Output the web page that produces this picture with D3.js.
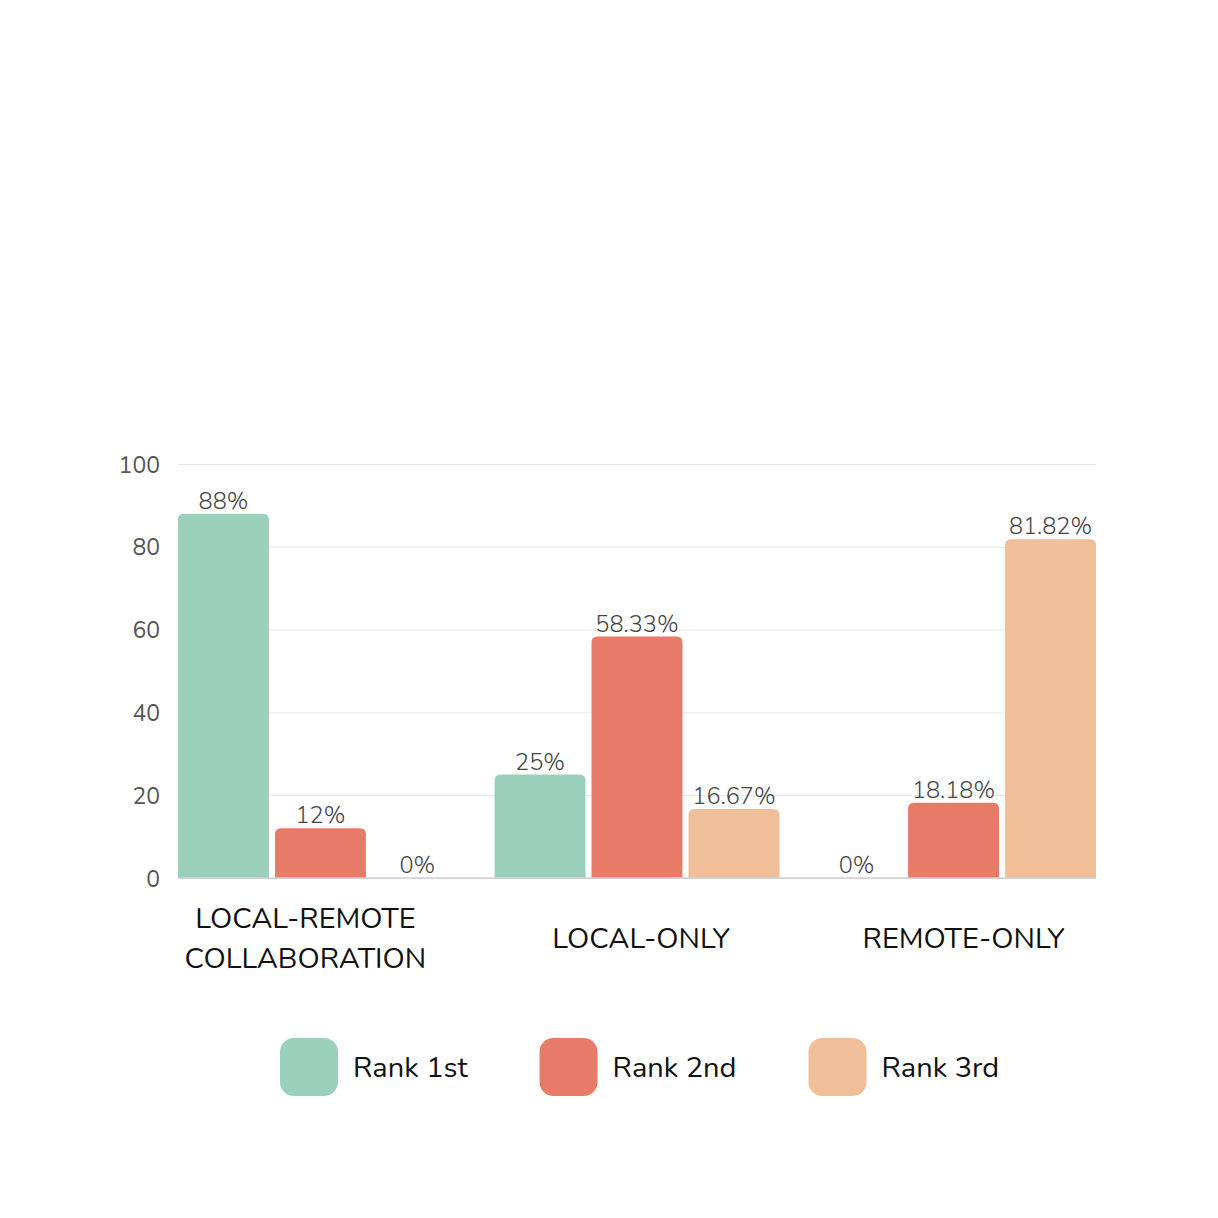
<!DOCTYPE html>
<html>
<head>
<meta charset="utf-8">
<script src="https://cdn.jsdelivr.net/npm/d3@7"></script>
<style>
  body { margin: 0; background: #fff; }
  text { font-family: "Nunito", "Lato", "Open Sans", sans-serif; }
  .grid line { stroke: #e6e6e6; }
  .grid path { display: none; }
  .axis path, .axis line { display: none; }
  .axis text { fill: #555; font-size: 23px; }
</style>
</head>
<body>
<div id="chart"></div>
<script>
var categories = [["LOCAL-REMOTE", "COLLABORATION"], ["LOCAL-ONLY"], ["REMOTE-ONLY"]];
var series = ["Rank 1st", "Rank 2nd", "Rank 3rd"];
var rank1 = [88, 25, 0];
var rank2 = [12, 58.33, 18.18];
var rank3 = [0, 16.67, 81.82];
var yTicks = [0, 20, 40, 60, 80, 100];
var colors = ["#9bd1bc", "#e77b67", "#f1be9a"];

var values = [rank1, rank2, rank3];

var W = 1218, H = 1218;
var margin = {top: 464, right: 122, bottom: 340, left: 178};
var width = W - margin.left - margin.right;
var height = H - margin.top - margin.bottom;

var svg = d3.select("#chart").append("svg").attr("width", W).attr("height", H);
var g = svg.append("g").attr("transform", "translate(" + margin.left + "," + margin.top + ")");

var x0 = d3.scaleBand().domain(d3.range(categories.length)).range([0, width]).paddingInner(0.1).paddingOuter(0);
var x1 = d3.scaleBand().domain(d3.range(series.length)).range([0, x0.bandwidth()]).paddingInner(0.062).paddingOuter(0);
var y = d3.scaleLinear().domain([0, 100]).range([height, 0]);

// grid
g.append("g").attr("class", "grid")
  .call(d3.axisLeft(y).tickValues(yTicks).tickSize(-width).tickFormat(""));

// y axis labels
g.append("g").attr("class", "axis")
  .attr("transform", "translate(-18,0)")
  .call(d3.axisLeft(y).tickValues(yTicks).tickSize(0).tickPadding(0))
  .selectAll("text").attr("dy", "0.35em");

// rounded-top bar path
function barPath(x, yTop, w, h, r) {
  r = Math.min(r, h, w / 2);
  if (h <= 0) return "";
  return "M" + x + "," + (yTop + h) +
    "V" + (yTop + r) +
    "Q" + x + "," + yTop + " " + (x + r) + "," + yTop +
    "H" + (x + w - r) +
    "Q" + (x + w) + "," + yTop + " " + (x + w) + "," + (yTop + r) +
    "V" + (yTop + h) + "Z";
}

var groups = g.selectAll(".grp").data(categories).enter().append("g")
  .attr("class", "grp")
  .attr("transform", function(d, i) { return "translate(" + x0(i) + ",0)"; });

groups.each(function(c, ci) {
  var grp = d3.select(this);
  series.forEach(function(s, si) {
    var v = values[si][ci];
    grp.append("path")
      .attr("d", barPath(x1(si), y(v), x1.bandwidth(), height - y(v), 6))
      .attr("fill", colors[si]);
    grp.append("text")
      .attr("x", x1(si) + x1.bandwidth() / 2)
      .attr("y", y(v) - 5)
      .attr("text-anchor", "middle")
      .attr("fill", "#444")
      .attr("font-size", 23.5)
      .attr("font-weight", 300)
      .text(d3.format("~r")(v) + "%");
  });
});

// baseline
g.append("line").attr("x1", 0).attr("x2", width).attr("y1", y(0)).attr("y2", y(0))
  .attr("stroke", "#cfcfcf").attr("stroke-width", 1.5);

// category labels (slightly off-centre in the original)
var labelShift = [-15, 4, 10];
groups.each(function(c, ci) {
  var cx = x0.bandwidth() / 2 + labelShift[ci];
  var t = d3.select(this).append("text")
    .attr("text-anchor", "middle")
    .attr("fill", "#111")
    .attr("font-size", 29);
  var base = c.length > 1 ? height + 50 : height + 70;
  c.forEach(function(line, li) {
    t.append("tspan").attr("x", cx).attr("y", base + li * 40).text(line);
  });
});

// legend
var legend = svg.append("g").attr("transform", "translate(280,1038)");
var lx = 0;
series.forEach(function(s, i) {
  var item = legend.append("g").attr("transform", "translate(" + lx + ",0)");
  item.append("rect").attr("width", 58).attr("height", 58).attr("rx", 14).attr("fill", colors[i]);
  var t = item.append("text").attr("x", 73).attr("y", 39).attr("font-size", 29).attr("fill", "#111").text(s);
  lx += 73 + t.node().getComputedTextLength() + 72;
});
</script>
</body>
</html>
